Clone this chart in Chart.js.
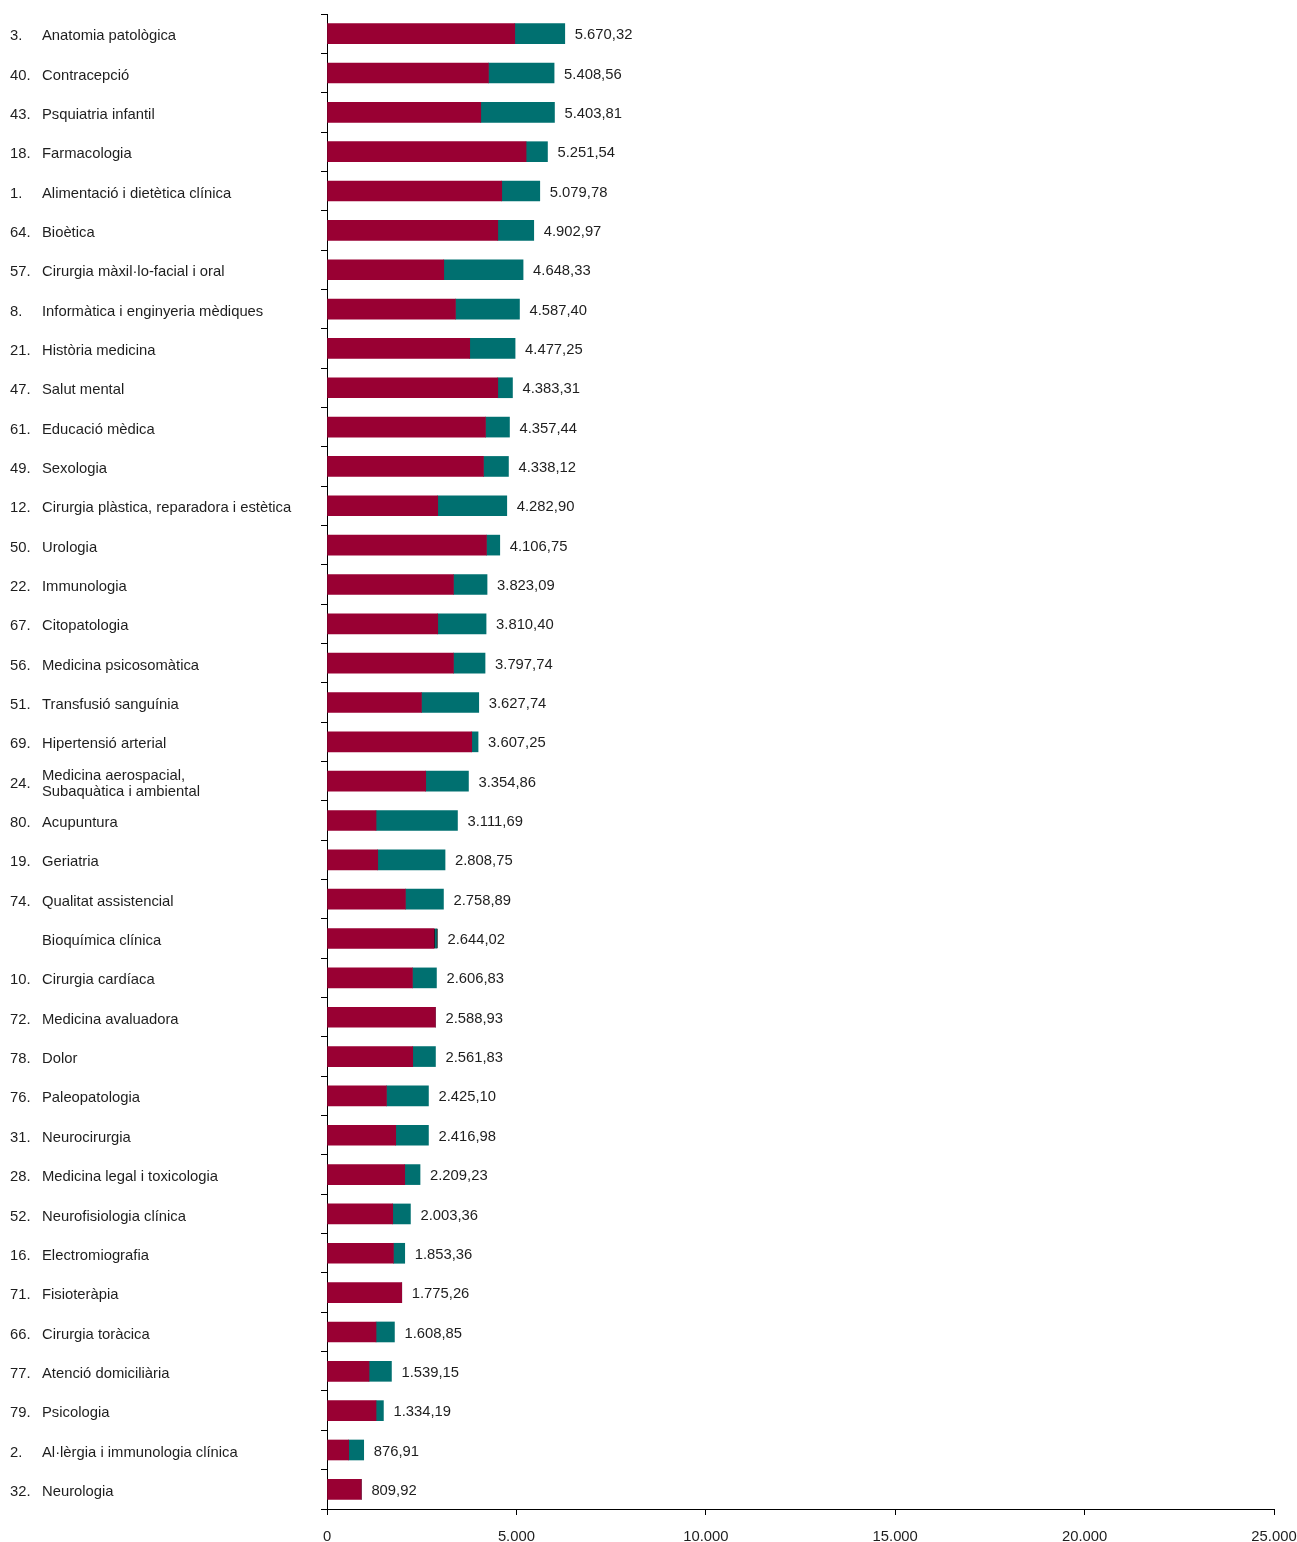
<!DOCTYPE html>
<html>
<head>
<meta charset="utf-8">
<script src="https://cdn.jsdelivr.net/npm/chart.js@4/dist/chart.umd.min.js"></script>
<style>
html,body{margin:0;padding:0;background:#fff;}
#wrap{width:1297px;height:1542px;position:relative;}
</style>
</head>
<body>
<div id="wrap"><canvas id="c"></canvas></div>
<script>
const codeNums = ['3.','40.','43.','18.','1.','64.','57.','8.','21.','47.','61.','49.','12.','50.','22.','67.','56.','51.','69.','24.','80.','19.','74.','','10.','72.','78.','76.','31.','28.','52.','16.','71.','66.','77.','79.','2.','32.'];
const categories = ['Anatomia patològica','Contracepció','Psquiatria infantil','Farmacologia','Alimentació i dietètica clínica','Bioètica','Cirurgia màxil·lo-facial i oral','Informàtica i enginyeria mèdiques','Història medicina','Salut mental','Educació mèdica','Sexologia','Cirurgia plàstica, reparadora i estètica','Urologia','Immunologia','Citopatologia','Medicina psicosomàtica','Transfusió sanguínia','Hipertensió arterial',['Medicina aerospacial,','Subaquàtica i ambiental'],'Acupuntura','Geriatria','Qualitat assistencial','Bioquímica clínica','Cirurgia cardíaca','Medicina avaluadora','Dolor','Paleopatologia','Neurocirurgia','Medicina legal i toxicologia','Neurofisiologia clínica','Electromiografia','Fisioteràpia','Cirurgia toràcica','Atenció domiciliària','Psicologia','Al·lèrgia i immunologia clínica','Neurologia'];
const seriesA = [4957,4262,4059,5255,4613,4508,3082,3391,3768,4508,4183,4130,2923,4209,3338,2923,3338,2493,3821,2606,1294,1339,2070,2826,2255,2863,2263,1569,1814,2052,1735,1753,1973,1294,1109,1294,573,908];
const seriesB = [1320,1733,1946,565,1004,950,2094,1690,1197,388,634,660,1823,352,887,1276,834,1513,167,1128,2150,1777,1004,90,634,0,600,1109,864,404,467,299,0,486,592,195,396,0];
const totalLabels = ['5.670,32','5.408,56','5.403,81','5.251,54','5.079,78','4.902,97','4.648,33','4.587,40','4.477,25','4.383,31','4.357,44','4.338,12','4.282,90','4.106,75','3.823,09','3.810,40','3.797,74','3.627,74','3.607,25','3.354,86','3.111,69','2.808,75','2.758,89','2.644,02','2.606,83','2.588,93','2.561,83','2.425,10','2.416,98','2.209,23','2.003,36','1.853,36','1.775,26','1.608,85','1.539,15','1.334,19','876,91','809,92'];
const xTickLabels = ['0','5.000','10.000','15.000','20.000','25.000'];

const FONT = '"Liberation Sans", Arial, sans-serif';
const TXT = '#1e1e1e';
const FS = 14.8;

const labelPlugin = {
  id: 'labelPlugin',
  afterDraw(chart) {
    const ctx = chart.ctx;
    const y = chart.scales.y, x = chart.scales.x;
    ctx.save();
    ctx.font = FS + 'px ' + FONT;
    ctx.fillStyle = TXT;
    ctx.textBaseline = 'middle';
    ctx.textAlign = 'left';
    categories.forEach((name, i) => {
      const py = y.getPixelForValue(i);
      ctx.fillText(codeNums[i], 10, py + 2.5);
      if (Array.isArray(name)) {
        ctx.fillText(name[0], 42, py - 5.5);
        ctx.fillText(name[1], 42, py + 10.5);
      } else {
        ctx.fillText(name, 42, py + 2.5);
      }
      const px = x.getPixelForValue(seriesA[i] + seriesB[i]);
      ctx.fillText(totalLabels[i], px + 10, py + 1.5);
    });
    ctx.restore();
  }
};

new Chart(document.getElementById('c'), {
  type: 'bar',
  data: {
    labels: categories.map((c, i) => codeNums[i] + ' ' + (Array.isArray(c) ? c.join(' ') : c)),
    datasets: [
      { data: seriesA, backgroundColor: '#990033', borderWidth: 0, barThickness: 20 },
      { data: seriesB, backgroundColor: '#007070', barThickness: 20,
        borderColor: '#000', borderWidth: ctx => ctx.dataIndex === 23 ? {left: 1, right: 1, top: 0, bottom: 0} : 0,
        borderSkipped: false }
    ]
  },
  options: {
    indexAxis: 'y',
    responsive: true,
    maintainAspectRatio: false,
    animation: false,
    layout: { padding: { top: 14, right: 23, bottom: 0, left: 0 } },
    plugins: { legend: { display: false }, tooltip: { enabled: false } },
    scales: {
      x: {
        stacked: true,
        min: 0, max: 25000,
        ticks: { stepSize: 5000, color: TXT, font: { family: FONT, size: FS }, padding: 13, maxRotation: 0,
                 callback: (v, i) => xTickLabels[i] },
        grid: { drawOnChartArea: false, drawTicks: true, tickLength: 6, color: '#000' },
        border: { display: true, color: '#000', width: 1 },
        afterFit: s => { s.height = 33; s.paddingLeft = 0; s.paddingRight = 0; }
      },
      y: {
        stacked: true,
        ticks: { display: false },
        grid: { drawOnChartArea: false, drawTicks: true, tickLength: 6, color: '#000', offset: true },
        border: { display: true, color: '#000', width: 1 },
        afterFit: s => { s.width = 327; s.paddingTop = 0; s.paddingBottom = 0; }
      }
    }
  },
  plugins: [labelPlugin]
});
</script>
</body>
</html>
